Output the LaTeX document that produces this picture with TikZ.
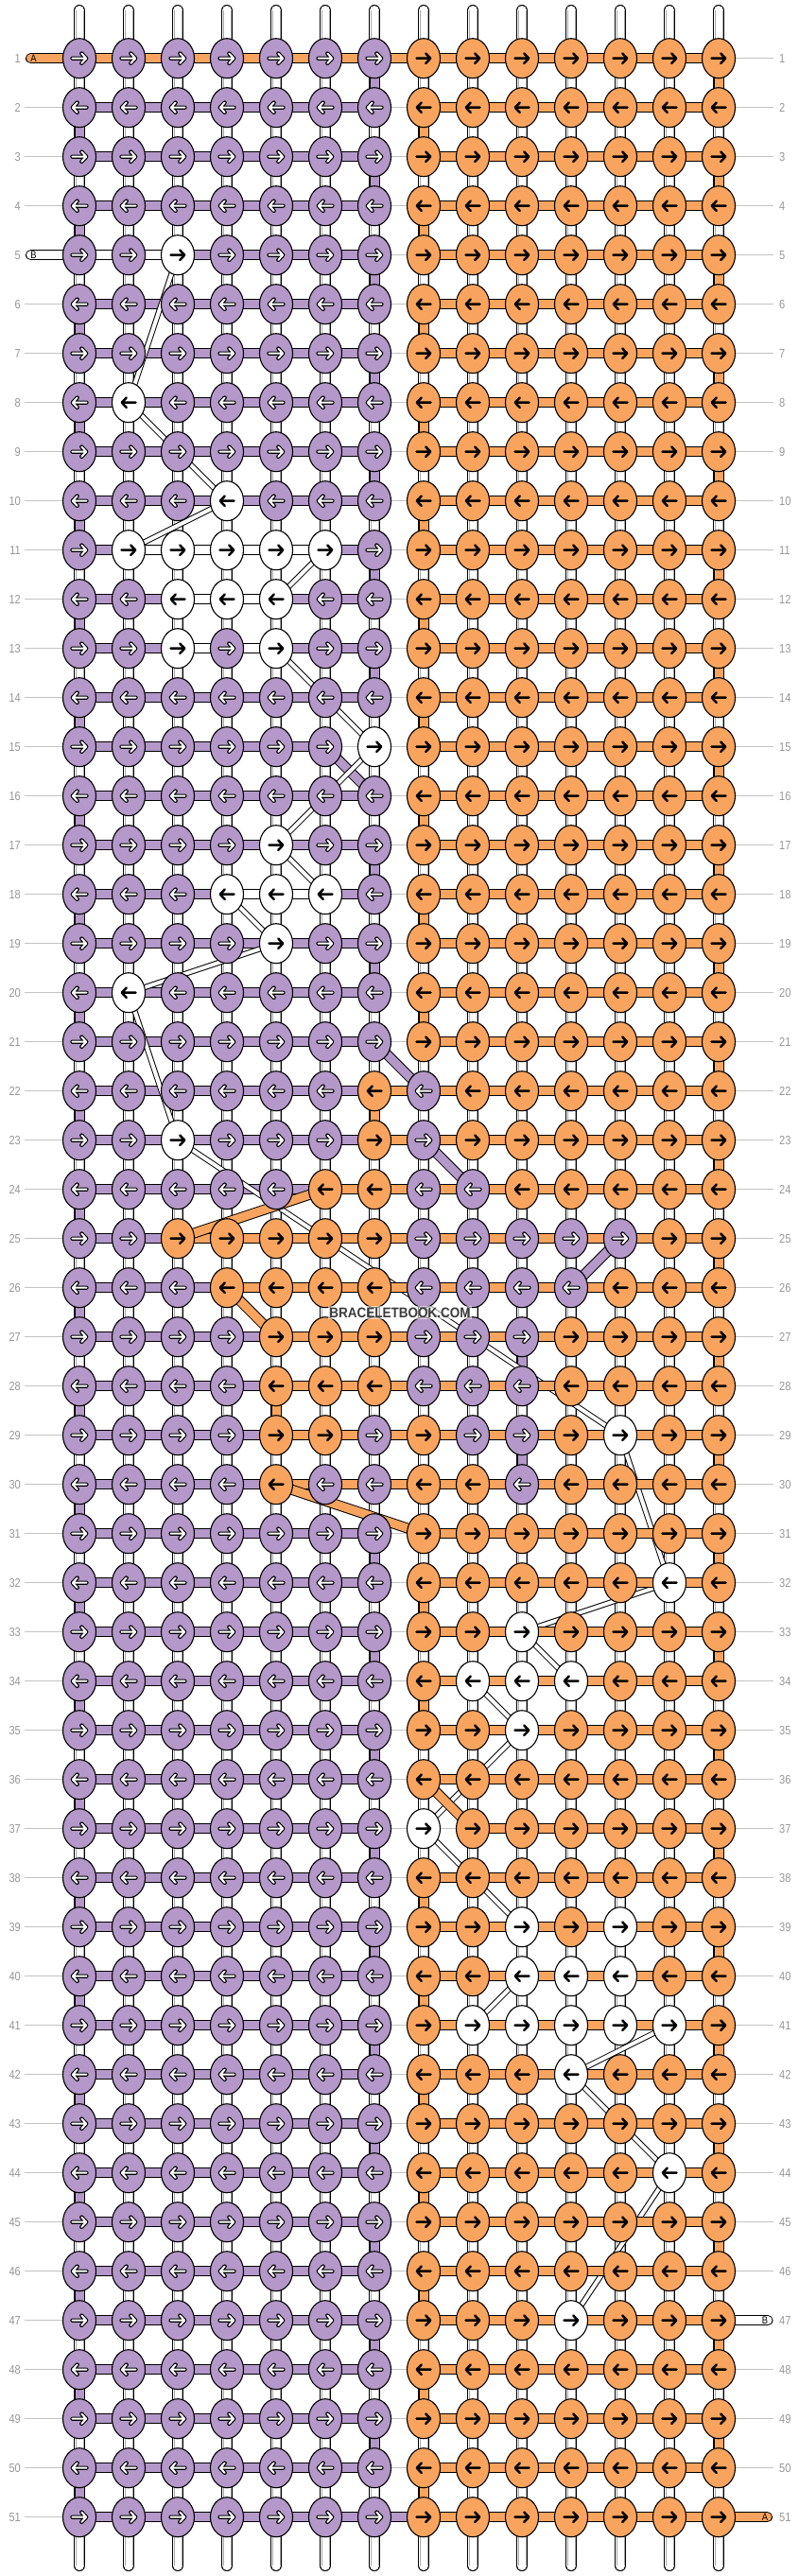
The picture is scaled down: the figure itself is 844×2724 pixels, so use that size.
\documentclass[tikz,border=0pt]{standalone}
\usepackage{fontspec}
\setmainfont{Liberation Sans}
\newfontfamily\labfont[FakeStretch=0.85]{Liberation Sans}
\newfontfamily\wmfont[FakeStretch=0.9]{Liberation Sans}
\usetikzlibrary{shapes.geometric}
\definecolor{kP}{RGB}{180,152,201}
\definecolor{kO}{RGB}{249,164,94}
\definecolor{kW}{RGB}{255,255,255}
\definecolor{labgray}{RGB}{150,150,150}
\definecolor{guidegray}{RGB}{195,195,195}
\definecolor{wmgray}{RGB}{60,60,60}
\pgfdeclarelayer{warp}
\pgfdeclarelayer{segP}
\pgfdeclarelayer{segW}
\pgfdeclarelayer{segO}
\pgfsetlayers{warp,segP,segW,segO,main}
\tikzset{
  knot/.style={ellipse, draw=black, line width=1.1pt, minimum width=35pt, minimum height=42pt, inner sep=0pt},
  rowlab/.style={text=labgray, font=\labfont\fontsize{13}{14}\selectfont, inner sep=0pt},
  taillab/.style={text=black, font=\labfont\fontsize{11}{12}\selectfont, inner sep=0pt},
  guideline/.style={guidegray, line width=1.2pt},
}
\newcommand\cband[3]{\draw[black,line width=11pt,line cap=round] (#2) -- (#3);
  \draw[#1,line width=9pt,line cap=round] (#2) -- (#3);}
\newcommand\wdiag[2]{\draw[black,line width=6pt,line cap=round] (#1) -- (#2);
  \draw[white,line width=4pt,line cap=round] (#1) -- (#2);}
\newcommand\karr[3]{%
  \begin{scope}[shift={(#1.center)},xscale=#2]
  \if P#3
    \draw[black,line width=4.3pt,line cap=round,line join=round] (-7.5,0) -- (7,0) (2.3,-5.2) -- (7.2,0) -- (2.3,5.2);
    \draw[white,line width=2.0pt,line cap=round,line join=round] (-7.5,0) -- (7,0) (2.3,-5.2) -- (7.2,0) -- (2.3,5.2);
  \else
    \draw[black,line width=2.5pt,line cap=round,line join=round] (-7.5,0) -- (7,0) (2.3,-5.2) -- (7.2,0) -- (2.3,5.2);
  \fi
  \end{scope}}
\begin{document}
\begin{tikzpicture}[x=1pt,y=-1pt]
\useasboundingbox (0,0) rectangle (844,2724);
% ---------- knots ----------
\foreach \r/\row in {
1/{P,P,P,P,P,P,P,O,O,O,O,O,O,O},
2/{P,P,P,P,P,P,P,O,O,O,O,O,O,O},
3/{P,P,P,P,P,P,P,O,O,O,O,O,O,O},
4/{P,P,P,P,P,P,P,O,O,O,O,O,O,O},
5/{P,P,W,P,P,P,P,O,O,O,O,O,O,O},
6/{P,P,P,P,P,P,P,O,O,O,O,O,O,O},
7/{P,P,P,P,P,P,P,O,O,O,O,O,O,O},
8/{P,W,P,P,P,P,P,O,O,O,O,O,O,O},
9/{P,P,P,P,P,P,P,O,O,O,O,O,O,O},
10/{P,P,P,W,P,P,P,O,O,O,O,O,O,O},
11/{P,W,W,W,W,W,P,O,O,O,O,O,O,O},
12/{P,P,W,W,W,P,P,O,O,O,O,O,O,O},
13/{P,P,W,P,W,P,P,O,O,O,O,O,O,O},
14/{P,P,P,P,P,P,P,O,O,O,O,O,O,O},
15/{P,P,P,P,P,P,W,O,O,O,O,O,O,O},
16/{P,P,P,P,P,P,P,O,O,O,O,O,O,O},
17/{P,P,P,P,W,P,P,O,O,O,O,O,O,O},
18/{P,P,P,W,W,W,P,O,O,O,O,O,O,O},
19/{P,P,P,P,W,P,P,O,O,O,O,O,O,O},
20/{P,W,P,P,P,P,P,O,O,O,O,O,O,O},
21/{P,P,P,P,P,P,P,O,O,O,O,O,O,O},
22/{P,P,P,P,P,P,O,P,O,O,O,O,O,O},
23/{P,P,W,P,P,P,O,P,O,O,O,O,O,O},
24/{P,P,P,P,P,O,O,P,P,O,O,O,O,O},
25/{P,P,O,O,O,O,O,P,P,P,P,P,O,O},
26/{P,P,P,O,O,O,O,P,P,P,P,O,O,O},
27/{P,P,P,P,O,O,O,P,P,P,O,O,O,O},
28/{P,P,P,P,O,O,O,P,P,P,O,O,O,O},
29/{P,P,P,P,O,O,P,O,P,P,O,W,O,O},
30/{P,P,P,P,O,P,P,O,O,P,O,O,O,O},
31/{P,P,P,P,P,P,P,O,O,O,O,O,O,O},
32/{P,P,P,P,P,P,P,O,O,O,O,O,W,O},
33/{P,P,P,P,P,P,P,O,O,W,O,O,O,O},
34/{P,P,P,P,P,P,P,O,W,W,W,O,O,O},
35/{P,P,P,P,P,P,P,O,O,W,O,O,O,O},
36/{P,P,P,P,P,P,P,O,O,O,O,O,O,O},
37/{P,P,P,P,P,P,P,W,O,O,O,O,O,O},
38/{P,P,P,P,P,P,P,O,O,O,O,O,O,O},
39/{P,P,P,P,P,P,P,O,O,W,O,W,O,O},
40/{P,P,P,P,P,P,P,O,O,W,W,W,O,O},
41/{P,P,P,P,P,P,P,O,W,W,W,W,W,O},
42/{P,P,P,P,P,P,P,O,O,O,W,O,O,O},
43/{P,P,P,P,P,P,P,O,O,O,O,O,O,O},
44/{P,P,P,P,P,P,P,O,O,O,O,O,W,O},
45/{P,P,P,P,P,P,P,O,O,O,O,O,O,O},
46/{P,P,P,P,P,P,P,O,O,O,O,O,O,O},
47/{P,P,P,P,P,P,P,O,O,O,W,O,O,O},
48/{P,P,P,P,P,P,P,O,O,O,O,O,O,O},
49/{P,P,P,P,P,P,P,O,O,O,O,O,O,O},
50/{P,P,P,P,P,P,P,O,O,O,O,O,O,O},
51/{P,P,P,P,P,P,P,O,O,O,O,O,O,O}}{
  \pgfmathsetmacro\y{61.7+52*(\r-1)}
  \node[rowlab,anchor=east] (ll-\r) at (22,\y) {\r};
  \node[rowlab,anchor=west] (rl-\r) at (824,\y) {\r};
  \foreach \kc [count=\c] in \row {
    \pgfmathsetmacro\x{84+52*(\c-1)}
    \node[knot,fill=k\kc] (k-\r-\c) at (\x,\y) {};
    \ifodd\r \def\dir{1}\else\def\dir{-1}\fi
    \karr{k-\r-\c}{\dir}{\kc}
  }
}
% tail ends
\coordinate (tA1) at (32.5,61.7);
\coordinate (tB1) at (32.5,269.7);
\coordinate (tB2) at (812,2453.7);
\coordinate (tA2) at (811.5,2661.7);
\node[taillab] (lA1) at (35.5,61.7) {A};
\node[taillab] (lB1) at (35.5,269.7) {B};
\node[taillab] (lB2) at (809,2453.7) {B};
\node[taillab] (lA2) at (809,2661.7) {A};
% watermark
\node[font=\wmfont\bfseries\fontsize{15}{16}\selectfont, text=wmgray, fill=white, fill opacity=0.55, text opacity=1, inner sep=1.5pt] (wm) at (423,1388) {BRACELETBOOK.COM};
% ---------- warp strings and guides ----------
\begin{pgfonlayer}{warp}
\foreach \r in {1,...,51}{\draw[guideline,shorten <=4pt,shorten >=6pt] (ll-\r.east) -- (rl-\r.west);}
\foreach \c in {1,...,14}{
  \pgfmathsetmacro\x{84+52*(\c-1)}
  \coordinate (wt-\c) at (\x,11);
  \coordinate (wb-\c) at (\x,2713);
  \draw[black,line width=12pt,line cap=round] (wt-\c) -- (wb-\c);
  \draw[white,line width=10pt,line cap=round] (wt-\c) -- (wb-\c);
  \draw[black!35,line width=0.6pt] ([xshift=-3.8pt]wt-\c) -- ([xshift=-3.8pt]wb-\c);
  \draw[black!35,line width=0.6pt] ([xshift=3.8pt]wt-\c) -- ([xshift=3.8pt]wb-\c);
}
\end{pgfonlayer}
% ---------- purple string ----------
\begin{pgfonlayer}{segP}
\foreach \r in {1,...,51}{\ifnum\r=15 \else \cband{kP}{k-\r-1.center}{k-\r-7.center}\fi}
\foreach \r/\a/\b in {15/1/6,22/1/8,23/1/8,24/1/9,25/1/12,26/1/11,27/1/10,28/1/10,29/1/10,30/1/10,51/1/8}{
  \cband{kP}{k-\r-\a.center}{k-\r-\b.center}}
\pgfkeyssetvalue{/tp/15}{6/7}
\pgfkeyssetvalue{/tp/21}{7/8}
\pgfkeyssetvalue{/tp/23}{8/9}
\pgfkeyssetvalue{/tp/25}{12/11}
\pgfkeyssetvalue{/tp/27}{10/10}
\pgfkeyssetvalue{/tp/29}{10/10}
\foreach \r in {1,3,...,49}{
  \pgfmathtruncatemacro\rn{\r+1}
  \pgfkeysifdefined{/tp/\r}{\pgfkeysgetvalue{/tp/\r}{\pp}}{\def\pp{7/7}}
  \foreach \ca/\cb in \pp {\cband{kP}{k-\r-\ca.center}{k-\rn-\cb.center}}
}
\foreach \r in {2,4,...,50}{
  \pgfmathtruncatemacro\rn{\r+1}
  \cband{kP}{k-\r-1.center}{k-\rn-1.center}
}
\end{pgfonlayer}
% ---------- white string B ----------
\begin{pgfonlayer}{segW}
\cband{kW}{tB1}{k-5-3.center}
\cband{kW}{k-47-11.center}{tB2}
\foreach \r/\a/\b in {11/2/6,12/3/5,13/3/5,18/4/6,34/9/11,39/10/12,40/10/12,41/9/13}{
  \cband{kW}{k-\r-\a.center}{k-\r-\b.center}}
\foreach \ra/\ca/\rb/\cb in {5/3/8/2,8/2/10/4,10/4/11/2,11/6/12/5,13/5/15/7,15/7/17/5,17/5/18/6,18/4/19/5,19/5/20/2,20/2/23/3,23/3/29/12,29/12/32/13,32/13/33/10,33/10/34/11,34/9/35/10,35/10/37/8,37/8/39/10,40/10/41/9,41/13/42/11,42/11/44/13,44/13/47/11}{
  \wdiag{k-\ra-\ca.center}{k-\rb-\cb.center}}
\end{pgfonlayer}
% ---------- orange string A ----------
\begin{pgfonlayer}{segO}
\foreach \r in {1,...,51}{\ifnum\r=37 \else \cband{kO}{k-\r-8.center}{k-\r-14.center}\fi}
\foreach \r/\a in {22/7,23/7,24/6,25/3,26/4,27/5,28/5,29/5,30/5,37/9}{
  \cband{kO}{k-\r-\a.center}{k-\r-14.center}}
\cband{kO}{tA1}{k-1-14.center}
\cband{kO}{k-51-8.center}{tA2}
\pgfkeyssetvalue{/to/22}{7/7}
\pgfkeyssetvalue{/to/24}{6/3}
\pgfkeyssetvalue{/to/26}{4/5}
\pgfkeyssetvalue{/to/28}{5/5}
\pgfkeyssetvalue{/to/30}{5/8}
\pgfkeyssetvalue{/to/36}{8/9}
\foreach \r in {2,4,...,50}{
  \pgfmathtruncatemacro\rn{\r+1}
  \pgfkeysifdefined{/to/\r}{\pgfkeysgetvalue{/to/\r}{\pp}}{\def\pp{8/8}}
  \foreach \ca/\cb in \pp {\cband{kO}{k-\r-\ca.center}{k-\rn-\cb.center}}
}
\foreach \r in {1,3,...,49}{
  \pgfmathtruncatemacro\rn{\r+1}
  \cband{kO}{k-\r-14.center}{k-\rn-14.center}
}
\end{pgfonlayer}
\end{tikzpicture}
\end{document}
